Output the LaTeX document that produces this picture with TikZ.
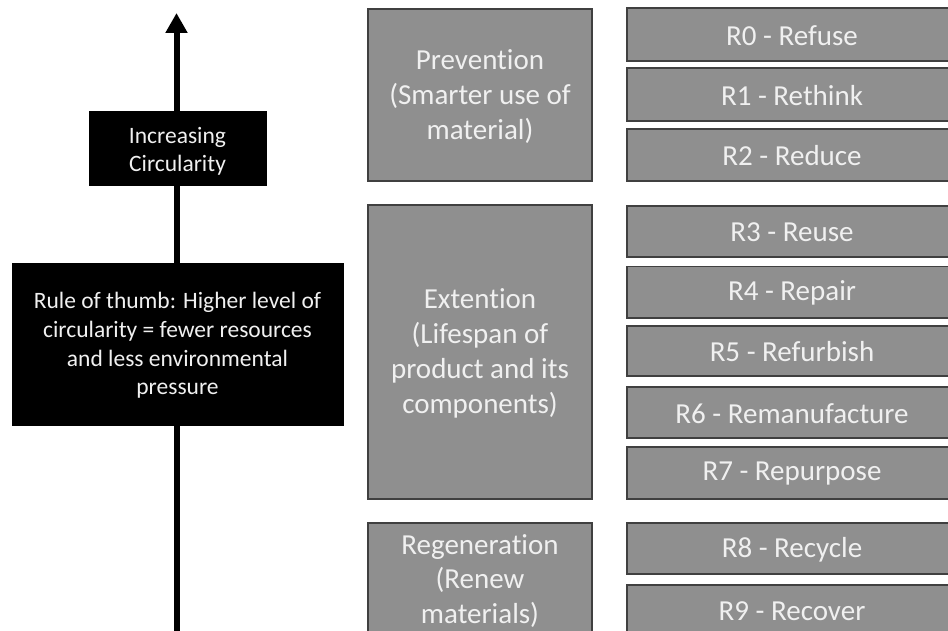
\documentclass[tikz,border=0pt]{standalone}
\usepackage{fontspec}
\setmainfont{Carlito}[Ligatures=NoCommon]
\usetikzlibrary{arrows.meta}
\definecolor{boxfill}{HTML}{8F8F8F}
\definecolor{boxline}{HTML}{404040}
\definecolor{boxtext}{HTML}{F0F0F0}
\tikzset{
  rbox/.style={draw=boxline, line width=1.6pt, fill=boxfill, inner sep=0pt},
  rtext/.style={text=boxtext, inner sep=0pt, align=center,
    font=\fontsize{29}{35}\selectfont},
  blackbox/.style={draw=black, fill=black, inner sep=0pt},
  btext/.style={text=boxtext, inner sep=0pt, align=center,
    font=\fontsize{23.5}{28.8}\selectfont},
  axis/.style={line width=6pt, -{Triangle[length=20pt,width=21pt]}}
}
\begin{document}
\begin{tikzpicture}[x=1pt,y=-1pt]
  \useasboundingbox (0,0) rectangle (948,631);
  \clip (0,0) rectangle (948,631);
  \fill[white] (0,0) rectangle (948,631);

  % vertical axis
  \coordinate (axisbot) at (176.5,660);
  \coordinate (axistop) at (176.5,13);
  \draw[axis] (axisbot) -- (axistop);

  % labels on the axis
  \node[blackbox, minimum width=177pt, minimum height=74pt] (incr) at (177.5,148) {};
  \node[btext, font=\fontsize{23.5}{27.8}\selectfont] (incr-t)
    at ([yshift=-3pt]incr.center) {Increasing\\Circularity};
  \node[blackbox, minimum width=331pt, minimum height=162pt] (rule) at (177.5,344) {};
  \node[btext] (rule-t) at ([yshift=-1.5pt]rule.center)
    {Rule of thumb: Higher level of\\circularity = fewer resources\\and less environmental\\pressure};

  % strategy groups
  \node[rbox, minimum width=224pt, minimum height=172pt] (prev) at (480,95) {};
  \node[rtext] (prev-t) at ([yshift=-2pt]prev.center)
    {Prevention\\(Smarter use of\\material)};
  \node[rbox, minimum width=224pt, minimum height=294pt] (ext) at (480,352) {};
  \node[rtext] (ext-t) at ([yshift=-1.5pt]ext.center)
    {Extention\\(Lifespan of\\product and its\\components)};
  \node[rbox, minimum width=224pt, minimum height=116pt] (regen) at (480,581) {};
  \node[rtext, font=\fontsize{29}{34.5}\selectfont] (regen-t) at ([yshift=0pt]regen.center)
    {Regeneration\\(Renew\\materials)};

  % R-ladder
  \foreach \nm/\yc/\hh/\txt in {
      r0/34.5/53/{R0 - Refuse},
      r1/94.5/53/{R1 - Rethink},
      r2/155/52/{R2 - Reduce},
      r3/231.3/51/{R3 - Reuse},
      r4/292.3/51.5/{R4 - Repair},
      r5/351/50/{R5 - Refurbish},
      r6/412.5/51.5/{R6 - Remanufacture},
      r7/472.8/52/{R7 - Repurpose},
      r8/548.7/51/{R8 - Recycle},
      r9/610.5/51/{R9 - Recover}}
    {\node[rbox, minimum width=330pt, minimum height=\hh pt] (\nm) at (792,\yc) {};
     \node[rtext] (\nm-t) at ([yshift=-1pt]\nm.center) {\txt};}
\end{tikzpicture}
\end{document}
